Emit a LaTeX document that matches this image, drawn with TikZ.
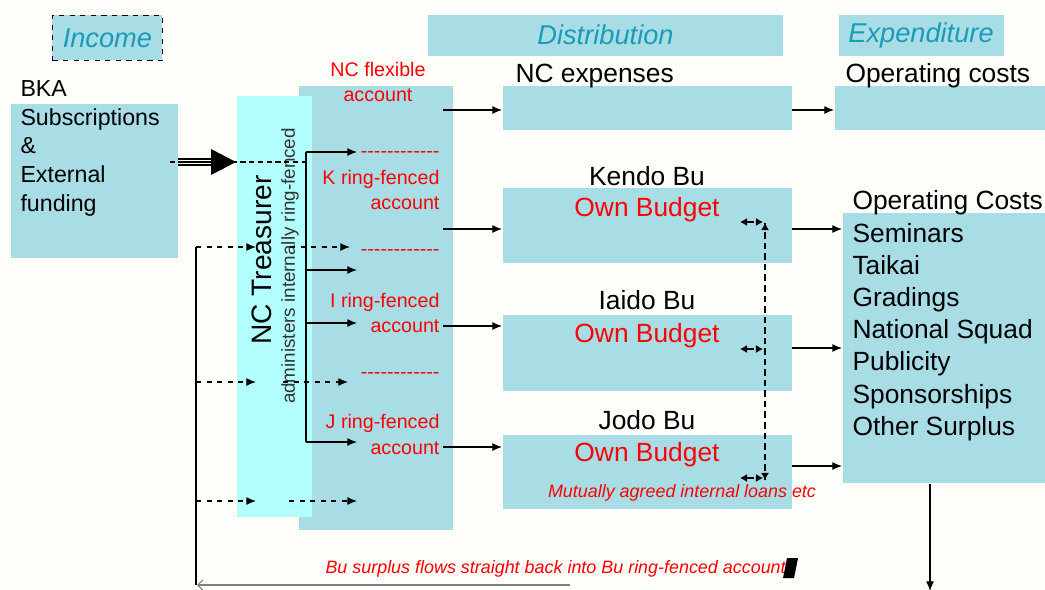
\documentclass[tikz,border=0pt]{standalone}
\usepackage{fontspec}
\setmainfont{Liberation Sans}
\usetikzlibrary{arrows.meta}

\definecolor{boxblue}{RGB}{169,221,230}
\definecolor{treascyan}{RGB}{179,255,255}
\definecolor{headteal}{RGB}{25,155,185}
\definecolor{paper}{RGB}{253,253,249}

% a row of hyphens (kerns keep them from becoming dashes)
\newcommand{\dashrow}{-\kern0pt-\kern0pt-\kern0pt-\kern0pt-\kern0pt-\kern0pt-\kern0pt-\kern0pt-\kern0pt-\kern0pt-\kern0pt-}

\tikzset{
  panel/.style={fill=boxblue, anchor=north west, inner sep=0pt},
  heading/.style={panel, font=\fontsize{15.5}{18}\selectfont\itshape, text=headteal},
  big/.style={font=\fontsize{15}{18}\selectfont, inner sep=0pt},
  srctext/.style={font=\fontsize{13.2}{16}\selectfont, inner sep=0pt, anchor=base west},
  acct/.style={font=\fontsize{11.2}{13}\selectfont, text=red, inner sep=0pt, anchor=base east},
  note/.style={font=\fontsize{10.2}{12}\selectfont\itshape, text=red, inner sep=0pt},
  budget/.style={big, text=red, anchor=base},
  loanarrow/.style={-{Latex[length=4pt,width=4.5pt]}}
}

\begin{document}
\begin{tikzpicture}[x=0.02cm, y=-0.02cm, line width=0.6pt, >={Latex[length=5.5pt,width=4.5pt]}]
    \fill[paper] (0,0) rectangle (1045,589);
    \useasboundingbox (0,0) rectangle (1045,589);

    % Column headings
    \node[heading, draw, dashed, line width=0.5pt, minimum width=2.2cm, minimum height=0.9cm] (income) at (52,15) {Income};
    \node[heading, minimum width=7.12cm, minimum height=0.82cm] (distr) at (427,14) {Distribution};
    \node[heading, minimum width=3.3cm, minimum height=0.82cm] (expend) at (838,14) {Expenditure};

    % Income source
    \node[panel, minimum width=3.36cm, minimum height=3.08cm] (source) at (10,103) {};
    \node[srctext] (bka) at (20,96) {BKA};
    \foreach \t/\y in {Subscriptions/125, \&/153, External/182, funding/211}
        \node[srctext] at (20,\y) {\t};

    % Accounts column and treasurer
    \node[panel, minimum width=3.08cm, minimum height=8.9cm] (accts) at (298,85) {};
    \node[panel, fill=treascyan, minimum width=1.5cm, minimum height=8.44cm] (treas) at (236,95) {};
    \node[rotate=90, font=\fontsize{16}{18}\selectfont] (treasname) at (262,260) {NC Treasurer};
    \node[rotate=90, font=\fontsize{10.7}{12}\selectfont, text=black!80] (treasnote) at (290,266) {administers internally ring-fenced};

    \node[acct, anchor=base] (flex1) at (378,76) {NC flexible};
    \node[acct, anchor=base] (flex) at (378,101) {account};
    \node[acct] (kdash) at (440,157) {\dashrow};
    \node[acct] (kname) at (440,184) {K ring-fenced};
    \node[acct] (kacc) at (440,209) {account};
    \node[acct] (idash) at (440,255) {\dashrow};
    \node[acct] (iname) at (440,307) {I ring-fenced};
    \node[acct] (iacc) at (440,332) {account};
    \node[acct] (jdash) at (440,378) {\dashrow};
    \node[acct] (jname) at (440,428) {J ring-fenced};
    \node[acct] (jacc) at (440,454) {account};

    % Distribution
    \node[panel, minimum width=5.8cm, minimum height=0.88cm] (ncexp) at (502,85) {};
    \node[big, anchor=base west] at (515,82) {NC expenses};
    \node[panel, minimum width=5.8cm, minimum height=1.5cm] (kendo) at (502,187) {};
    \node[big, anchor=base] at (647,185) {Kendo Bu};
    \node[budget] at (647,216) {Own Budget};
    \node[panel, minimum width=5.8cm, minimum height=1.52cm] (iaido) at (502,314) {};
    \node[big, anchor=base] at (647,309) {Iaido Bu};
    \node[budget] at (647,342) {Own Budget};
    \node[panel, minimum width=5.8cm, minimum height=1.48cm] (jodo) at (502,434) {};
    \node[big, anchor=base] at (647,429) {Jodo Bu};
    \node[budget] at (647,461) {Own Budget};
    \node[note, anchor=base] (loans) at (682,497) {Mutually agreed internal loans etc};

    % Expenditure
    \node[panel, minimum width=4.4cm, minimum height=0.88cm] (opcost) at (834,85) {};
    \node[big, anchor=base west] at (845,82) {Operating costs};
    \node[panel, minimum width=4.2cm, minimum height=5.42cm] (opcosts) at (842,212) {};
    \node[big, anchor=base west] at (852,209) {Operating Costs};
    \foreach \t/\y in {Seminars/242, Taikai/274, Gradings/306, National Squad/338,
                       Publicity/370, Sponsorships/403, Other Surplus/435}
        \node[big, anchor=base west] at (852,\y) {\t};

    % Income into treasurer
    \foreach \dy in {-3,0,3}
        \draw[line width=1pt] (178,162+\dy) -- (214,162+\dy);
    \fill (211,149) -- (236,162) -- (211,175) -- cycle;
    \draw[dash pattern=on 3pt off 2pt] (170,162) -- (308,162);

    % Treasurer branches to ring-fenced accounts
    \coordinate (trunktop) at (306,152);
    \coordinate (trunkbot) at (306,442);
    \draw (trunktop) -- (trunkbot);
    \foreach \y in {152,270,323,442}
        \draw[->] (306,\y) -- (357,\y);

    % Accounts to distribution
    \coordinate (flexout) at (443,110);
    \coordinate (kout) at (443,229);
    \coordinate (iout) at (443,326);
    \coordinate (jout) at (443,447);
    \draw[->] (flexout) -- (flexout -| ncexp.west);
    \draw[->] (kout) -- (kout -| kendo.west);
    \draw[->] (iout) -- (iout -| iaido.west);
    \draw[->] (jout) -- (jout -| jodo.west);

    % Distribution to expenditure
    \coordinate (ncspend) at (792,110);
    \coordinate (kspend) at (792,229);
    \coordinate (ispend) at (792,348);
    \coordinate (jspend) at (792,466);
    \draw[->] (ncspend) -- (ncspend -| opcost.west);
    \draw[->] (kspend) -- (kspend -| opcosts.west);
    \draw[->] (ispend) -- (ispend -| opcosts.west);
    \draw[->] (jspend) -- (jspend -| opcosts.west);

    % Internal loans between the Bu
    \coordinate (loantop) at (765,223);
    \coordinate (loanbot) at (765,480);
    \draw[loanarrow, dashed] (loanbot) -- (loantop);
    \draw[loanarrow, dashed] (loantop) -- (loanbot);
    \foreach \y in {222,349,478} {
        \draw[loanarrow] (754,\y) -- (740,\y);
        \draw[loanarrow] (757,\y) -- (763,\y);
    }

    % Surplus back to ring-fenced accounts
    \coordinate (spenddown) at (930,591);
    \draw[->] (opcosts.south -| spenddown) -- (spenddown);
    \coordinate (retright) at (570,585);
    \coordinate (retcorner) at (196,585);
    \draw[gray, -{Straight Barb[length=3pt,width=6pt]}] (retright) -- (197,585);
    \draw (196,247) -- (retcorner);
    \foreach \y in {247,382,501}
        \draw[->, dashed] (196,\y) -- (256,\y);
    \draw[->, dashed] (290,247) -- (350,247);
    \draw[->, dashed] (283,382) -- (348,382);
    \draw[->, dashed] (289,501) -- (357,501);
    \node[note, anchor=base west] (surplus) at (325,573) {Bu surplus flows straight back into Bu ring-fenced account};
    \fill (787,558) -- (798,558) -- (794,578) -- (783,578) -- cycle;
\end{tikzpicture}
\end{document}
